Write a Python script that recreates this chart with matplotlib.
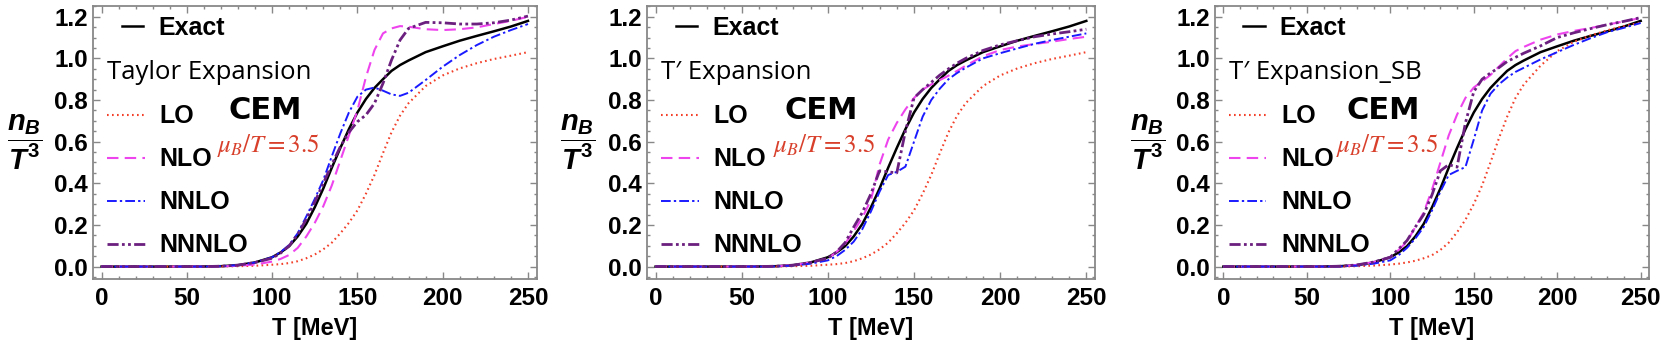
import matplotlib
matplotlib.use("Agg")
import matplotlib.pyplot as plt
from matplotlib.ticker import MultipleLocator

plt.rcParams["font.family"] = ["Liberation Sans", "DejaVu Sans"]
plt.rcParams["mathtext.fontset"] = "custom"
plt.rcParams["mathtext.it"] = "Liberation Sans:italic:bold"
plt.rcParams["mathtext.rm"] = "Liberation Sans:bold"
plt.rcParams["mathtext.bf"] = "Liberation Sans:bold"

# temperature grid (MeV) shared by all curves
T = [0, 20, 40, 60, 70, 80, 90, 100, 105, 110, 115, 120, 125, 130, 135, 140,
     145, 150, 155, 160, 165, 170, 175, 180, 190, 200, 210, 220, 230, 240, 250]

EXACT = [0, 0, 0, 0.0005, 0.002, 0.007, 0.02, 0.045, 0.068, 0.098, 0.145, 0.205,
         0.285, 0.375, 0.475, 0.57, 0.66, 0.74, 0.805, 0.858, 0.9, 0.94, 0.968,
         0.99, 1.03, 1.058, 1.085, 1.108, 1.13, 1.153, 1.18]

# panel 1: Taylor expansion
TAYLOR_LO = [0, 0, 0, 0, 0.0005, 0.002, 0.004, 0.009, 0.012, 0.017, 0.026, 0.04,
             0.058, 0.083, 0.115, 0.16, 0.21, 0.27, 0.35, 0.44, 0.545, 0.645, 0.725,
             0.785, 0.867, 0.918, 0.952, 0.977, 0.997, 1.013, 1.03]
TAYLOR_NLO = [0, 0, 0, 0, 0.001, 0.004, 0.01, 0.024, 0.037, 0.056, 0.09, 0.144,
              0.21, 0.29, 0.39, 0.51, 0.63, 0.75, 0.91, 1.04, 1.12, 1.144, 1.155,
              1.152, 1.14, 1.136, 1.14, 1.149, 1.165, 1.18, 1.2]
TAYLOR_NNLO = [0, 0, 0, 0, 0.002, 0.007, 0.02, 0.045, 0.07, 0.104, 0.16, 0.24,
               0.325, 0.416, 0.53, 0.64, 0.74, 0.816, 0.85, 0.86, 0.845, 0.827,
               0.82, 0.835, 0.896, 0.96, 1.016, 1.064, 1.104, 1.136, 1.165]
TAYLOR_NNNLO = [0, 0, 0, 0, 0.002, 0.007, 0.02, 0.04, 0.065, 0.1, 0.155, 0.227,
                0.31, 0.4, 0.49, 0.576, 0.645, 0.696, 0.728, 0.784, 0.88, 0.992,
                1.088, 1.144, 1.173, 1.171, 1.165, 1.165, 1.171, 1.184, 1.203]

# panel 2: T' expansion
TP_LO = TAYLOR_LO
TP_NLO = [0, 0, 0, 0, 0.002, 0.007, 0.02, 0.04, 0.07, 0.11, 0.17, 0.235, 0.32,
          0.49, 0.61, 0.69, 0.755, 0.81, 0.85, 0.875, 0.896, 0.917, 0.94, 0.965,
          1.01, 1.04, 1.057, 1.069, 1.08, 1.093, 1.104]
TP_NNLO = [0, 0, 0, 0, 0.001, 0.005, 0.014, 0.03, 0.05, 0.08, 0.12, 0.18, 0.265,
           0.36, 0.44, 0.455, 0.48, 0.6, 0.72, 0.8, 0.855, 0.9, 0.93, 0.955, 1.0,
           1.025, 1.048, 1.07, 1.088, 1.104, 1.12]
TP_NNNLO = [0, 0, 0, 0, 0.002, 0.007, 0.02, 0.04, 0.07, 0.115, 0.19, 0.26, 0.35,
            0.46, 0.455, 0.45, 0.65, 0.81, 0.85, 0.885, 0.92, 0.95, 0.977, 1.0,
            1.038, 1.065, 1.085, 1.104, 1.117, 1.128, 1.14]

# panel 3: T' expansion_SB
SB_LO = [0, 0, 0, 0, 0.0005, 0.002, 0.005, 0.01, 0.014, 0.02, 0.028, 0.04, 0.055,
         0.08, 0.115, 0.165, 0.225, 0.3, 0.39, 0.5, 0.615, 0.72, 0.81, 0.875,
         0.965, 1.035, 1.08, 1.11, 1.135, 1.155, 1.172]
SB_NLO = [0, 0, 0, 0, 0.002, 0.008, 0.022, 0.045, 0.08, 0.12, 0.19, 0.26, 0.37,
          0.5, 0.63, 0.73, 0.81, 0.86, 0.89, 0.92, 0.96, 1.0, 1.035, 1.055, 1.09,
          1.115, 1.132, 1.146, 1.162, 1.178, 1.194]
SB_NNLO = [0, 0, 0, 0, 0.001, 0.005, 0.014, 0.03, 0.055, 0.09, 0.135, 0.19, 0.27,
           0.36, 0.44, 0.46, 0.478, 0.61, 0.75, 0.83, 0.875, 0.908, 0.935, 0.955,
           0.995, 1.03, 1.065, 1.097, 1.126, 1.147, 1.17]
SB_NNNLO = [0, 0, 0, 0, 0.002, 0.008, 0.022, 0.045, 0.085, 0.125, 0.19, 0.25,
            0.345, 0.46, 0.49, 0.478, 0.69, 0.84, 0.9, 0.93, 0.955, 0.985, 1.005,
            1.025, 1.06, 1.1, 1.123, 1.143, 1.162, 1.178, 1.196]

PANEL_TITLES = ["Taylor Expansion", "T\u2032 Expansion", "T\u2032 Expansion_SB"]
PANEL_SERIES = [
    (TAYLOR_LO, TAYLOR_NLO, TAYLOR_NNLO, TAYLOR_NNNLO),
    (TP_LO, TP_NLO, TP_NNLO, TP_NNNLO),
    (SB_LO, SB_NLO, SB_NNLO, SB_NNNLO),
]
ORDER_LABELS = ["LO", "NLO", "NNLO", "NNNLO"]

ORDER_STYLES = [
    dict(color="#f2402a", linestyle=(0, (0.8, 1.6)), linewidth=1.5),
    dict(color="#ee44ee", linestyle=(0, (5.5, 3)), linewidth=1.5),
    dict(color="#1a1aff", linestyle=(0, (5, 1.6, 1.2, 1.6)), linewidth=1.4),
    dict(color="#6b1f7f", linestyle=(0, (4, 1.2, 1, 1.2, 1, 1.2)), linewidth=2.0),
]

AX_POS = [
    (0.056, 0.198, 0.267, 0.785),
    (0.3895, 0.198, 0.2697, 0.785),
    (0.7315, 0.198, 0.2613, 0.785),
]

FRAME = "#888888"
LABEL_FS = 18

fig = plt.figure(figsize=(16.61, 3.48), dpi=100)

for pos, title, series in zip(AX_POS, PANEL_TITLES, PANEL_SERIES):
    ax = fig.add_axes(pos)
    exact_line, = ax.plot(T, EXACT, color="black", linewidth=1.8, zorder=3)
    order_lines = []
    for vals, style in zip(series, ORDER_STYLES):
        line, = ax.plot(T, vals, zorder=4, **style)
        order_lines.append(line)

    ax.set_xlim(-5, 255)
    ax.set_ylim(-0.06, 1.252)
    ax.xaxis.set_major_locator(MultipleLocator(50))
    ax.xaxis.set_minor_locator(MultipleLocator(10))
    ax.yaxis.set_major_locator(MultipleLocator(0.2))
    ax.yaxis.set_minor_locator(MultipleLocator(0.05))
    ax.yaxis.set_major_formatter(lambda v, p: f"{v:.1f}")
    ax.tick_params(which="both", direction="in", top=True, right=True,
                   color=FRAME, width=1.0)
    ax.tick_params(which="major", length=5)
    ax.tick_params(which="minor", length=2.5)
    ax.tick_params(axis="x", pad=6)
    ax.tick_params(axis="y", pad=3.5)
    for lab in ax.get_xticklabels() + ax.get_yticklabels():
        lab.set_fontsize(17.5)
        lab.set_fontweight("bold")
    for sp in ax.spines.values():
        sp.set_color(FRAME)
        sp.set_linewidth(1.3)

    ax.set_xlabel("T [MeV]", fontsize=17, fontweight="bold", labelpad=5)
    ax.set_ylabel(r"$\dfrac{n_B}{T^3}$", fontsize=21, rotation=0,
                  ha="center", va="center")
    ax.yaxis.set_label_coords(-0.155, 0.5)

    leg_exact = ax.legend([exact_line], ["Exact"], loc="upper left",
                          bbox_to_anchor=(12, 1.205), bbox_transform=ax.transData,
                          frameon=False, borderpad=0, borderaxespad=0,
                          handlelength=0.85, handletextpad=0.6,
                          prop=dict(size=LABEL_FS, weight="bold"))
    ax.add_artist(leg_exact)
    leg = ax.legend(order_lines, ORDER_LABELS, loc="upper left",
                    bbox_to_anchor=(3.2, 0.99), bbox_transform=ax.transData,
                    frameon=False, borderpad=0, borderaxespad=0,
                    handlelength=1.5, handletextpad=0.6, labelspacing=0.76,
                    title=title, alignment="left",
                    prop=dict(size=LABEL_FS, weight="bold"),
                    title_fontproperties=dict(family="Open Sans", size=18.5))

    ax.text(96, 0.748, "CEM", fontsize=22, fontweight="bold",
            family="DejaVu Sans", ha="center", va="center")
    ax.text(98, 0.58, r"$\mu_B/T=3.5$", math_fontfamily="stix",
            fontsize=18, color="#d8402c", ha="center", va="center")

fig.savefig("out.png", dpi=100)
